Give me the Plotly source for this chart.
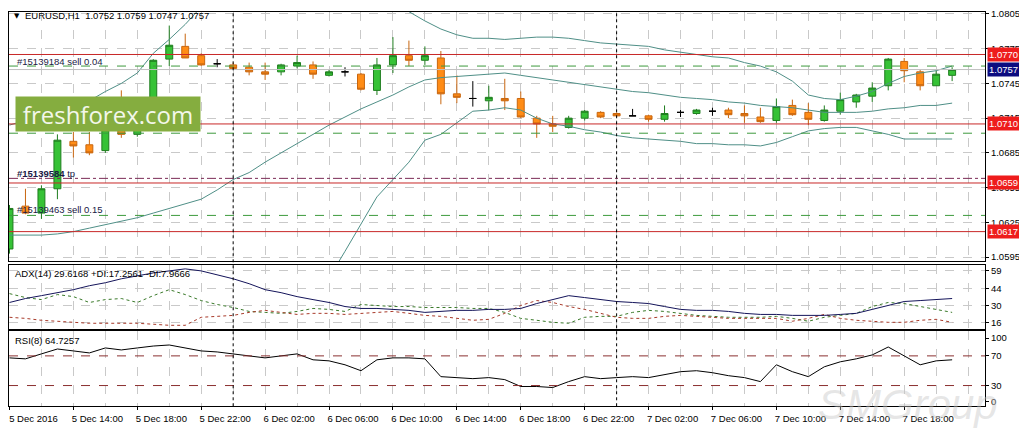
import plotly.graph_objects as go
from plotly.subplots import make_subplots

# the page body has an 8px margin, so the figure is 8px smaller than the window
PAGE_OFF = 8
W, H = 1027 - PAGE_OFF, 431 - PAGE_OFF

# EURUSD H1, bars from 5 Dec 2016 10:00 to 7 Dec 2016 21:00
bar_index = list(range(60))
tick_pos = list(range(0, 60, 4))
tick_labels = ["5 Dec 2016", "5 Dec 14:00", "5 Dec 18:00", "5 Dec 22:00",
               "6 Dec 02:00", "6 Dec 06:00", "6 Dec 10:00", "6 Dec 14:00",
               "6 Dec 18:00", "6 Dec 22:00", "7 Dec 02:00", "7 Dec 06:00",
               "7 Dec 10:00", "7 Dec 14:00", "7 Dec 18:00"]
day_breaks = [14, 38]

opens = [1.0602, 1.0639, 1.0633, 1.0654, 1.0695, 1.0692, 1.0687, 1.0706, 1.0701, 1.0716,
         1.0766, 1.0777, 1.0769, 1.0762, 1.0761, 1.0759, 1.0755, 1.0755, 1.0760, 1.0761,
         1.0752, 1.0755, 1.0753, 1.0739, 1.0761, 1.0769, 1.0765, 1.0767, 1.0736, 1.0732,
         1.0730, 1.0732, 1.0732, 1.0715, 1.0710, 1.0707, 1.0715, 1.0720, 1.0719, 1.0717,
         1.0717, 1.0714, 1.0720, 1.0719, 1.0721, 1.0722, 1.0719, 1.0716, 1.0713, 1.0726,
         1.0720, 1.0713, 1.0721, 1.0729, 1.0734, 1.0743, 1.0764, 1.0755, 1.0743, 1.0752]
highs = [1.0640, 1.0654, 1.0657, 1.0701, 1.0703, 1.0703, 1.0712, 1.0739, 1.0725, 1.0766,
         1.0795, 1.0788, 1.0771, 1.0766, 1.0763, 1.0763, 1.0763, 1.0762, 1.0769, 1.0764,
         1.0757, 1.0759, 1.0754, 1.0767, 1.0785, 1.0782, 1.0777, 1.0773, 1.0752, 1.0747,
         1.0743, 1.0749, 1.0738, 1.0717, 1.0717, 1.0717, 1.0722, 1.0721, 1.0720, 1.0723,
         1.0718, 1.0726, 1.0722, 1.0723, 1.0724, 1.0724, 1.0726, 1.0724, 1.0732, 1.0731,
         1.0728, 1.0726, 1.0737, 1.0736, 1.0746, 1.0767, 1.0767, 1.0757, 1.0756, 1.0759]
lows = [1.0598, 1.0632, 1.0628, 1.0645, 1.0681, 1.0683, 1.0685, 1.0698, 1.0699, 1.0712,
        1.0760, 1.0767, 1.0760, 1.0759, 1.0757, 1.0752, 1.0748, 1.0752, 1.0758, 1.0749,
        1.0751, 1.0751, 1.0739, 1.0735, 1.0754, 1.0760, 1.0761, 1.0727, 1.0728, 1.0725,
        1.0722, 1.0722, 1.0715, 1.0698, 1.0703, 1.0706, 1.0713, 1.0715, 1.0716, 1.0717,
        1.0712, 1.0712, 1.0716, 1.0718, 1.0717, 1.0715, 1.0711, 1.0711, 1.0711, 1.0717,
        1.0709, 1.0712, 1.0718, 1.0724, 1.0729, 1.0739, 1.0746, 1.0739, 1.0743, 1.0747]
closes = [1.0637, 1.0633, 1.0654, 1.0696, 1.0691, 1.0685, 1.0705, 1.0701, 1.0716, 1.0765,
          1.0778, 1.0767, 1.0761, 1.0762, 1.0758, 1.0755, 1.0753, 1.0761, 1.0763, 1.0753,
          1.0755, 1.0755, 1.0740, 1.0761, 1.0769, 1.0765, 1.0769, 1.0736, 1.0733, 1.0732,
          1.0733, 1.0730, 1.0716, 1.0710, 1.0708, 1.0715, 1.0721, 1.0716, 1.0717, 1.0717,
          1.0714, 1.0719, 1.0720, 1.0722, 1.0721, 1.0718, 1.0717, 1.0712, 1.0725, 1.0718,
          1.0714, 1.0722, 1.0731, 1.0735, 1.0741, 1.0766, 1.0756, 1.0743, 1.0753, 1.0757]

# Bollinger bands
bb_upper = [1.0709, 1.0713, 1.0716, 1.0720, 1.0723, 1.0730, 1.0738, 1.0745, 1.0754, 1.0771,
            1.0783, 1.0796, 1.0811, 1.0822, 1.0829, 1.0834, 1.0837, 1.0841, 1.0843, 1.0843,
            1.0841, 1.0836, 1.0827, 1.0819, 1.0812, 1.0807, 1.0799, 1.0792, 1.0787, 1.0784,
            1.0784, 1.0783, 1.0784, 1.0785, 1.0785, 1.0784, 1.0782, 1.0780, 1.0779, 1.0778,
            1.0777, 1.0774, 1.0772, 1.0770, 1.0768, 1.0767, 1.0763, 1.0760, 1.0755, 1.0747,
            1.0735, 1.0732, 1.0731, 1.0734, 1.0738, 1.0745, 1.0751, 1.0754, 1.0756, 1.0760]
bb_middle = [1.0614, 1.0614, 1.0614, 1.0615, 1.0617, 1.0620, 1.0623, 1.0626, 1.0629, 1.0633,
             1.0637, 1.0641, 1.0645, 1.0653, 1.0662, 1.0668, 1.0677, 1.0685, 1.0693, 1.0701,
             1.0709, 1.0716, 1.0723, 1.0729, 1.0735, 1.0742, 1.0748, 1.0750, 1.0751, 1.0752,
             1.0753, 1.0754, 1.0752, 1.0750, 1.0748, 1.0746, 1.0744, 1.0742, 1.0740, 1.0738,
             1.0737, 1.0735, 1.0733, 1.0732, 1.0731, 1.0729, 1.0728, 1.0726, 1.0725, 1.0724,
             1.0722, 1.0720, 1.0720, 1.0720, 1.0721, 1.0723, 1.0724, 1.0726, 1.0726, 1.0728]
bb_lower = [1.0519, 1.0515, 1.0512, 1.0510, 1.0511, 1.0510, 1.0508, 1.0507, 1.0504, 1.0495,
            1.0491, 1.0486, 1.0479, 1.0484, 1.0495, 1.0502, 1.0517, 1.0529, 1.0543, 1.0559,
            1.0577, 1.0600, 1.0624, 1.0647, 1.0662, 1.0677, 1.0696, 1.0701, 1.0711, 1.0721,
            1.0722, 1.0724, 1.0722, 1.0715, 1.0710, 1.0708, 1.0705, 1.0703, 1.0700, 1.0698,
            1.0697, 1.0696, 1.0695, 1.0693, 1.0693, 1.0692, 1.0692, 1.0691, 1.0694, 1.0699,
            1.0704, 1.0706, 1.0707, 1.0707, 1.0704, 1.0701, 1.0697, 1.0697, 1.0697, 1.0697]

# ADX(14)
adx = [32.6, 35.9, 38.3, 40.8, 43.3, 46.6, 49.1, 52.4, 54.9, 57.3,
       59.0, 60.7, 59.0, 55.7, 52.4, 48.3, 43.3, 40.8, 37.5, 35.0,
       32.6, 29.2, 27.6, 27.6, 26.8, 26.0, 24.3, 25.1, 26.0, 26.0,
       26.8, 26.8, 27.6, 31.7, 35.0, 38.3, 36.7, 35.0, 33.4, 32.6,
       31.7, 29.2, 26.8, 26.0, 26.0, 25.1, 23.5, 22.6, 22.6, 21.8,
       21.8, 21.8, 22.6, 23.5, 26.8, 30.1, 33.4, 34.2, 35.0, 35.9]
plus_di = [40.0, 36.7, 35.0, 39.2, 37.5, 32.6, 35.0, 35.9, 32.6, 38.3,
           43.3, 39.2, 34.2, 30.9, 28.4, 25.1, 24.3, 23.5, 25.1, 27.6,
           26.8, 25.1, 30.9, 30.1, 29.2, 29.2, 28.4, 28.4, 28.4, 27.6,
           27.6, 24.3, 19.3, 17.7, 16.0, 15.2, 20.2, 21.0, 21.0, 24.3,
           26.0, 25.1, 23.5, 21.8, 21.0, 20.2, 20.2, 20.2, 21.0, 19.3,
           16.9, 20.2, 21.8, 23.5, 29.2, 32.6, 31.7, 29.2, 26.8, 24.3]
minus_di = [20.2, 19.3, 17.7, 16.9, 16.0, 15.2, 15.2, 15.2, 15.2, 14.4,
            13.5, 13.5, 20.2, 21.0, 21.8, 24.3, 26.0, 24.3, 22.6, 23.5,
            23.5, 22.6, 23.5, 24.3, 25.1, 23.5, 21.8, 21.0, 19.3, 17.7,
            18.5, 23.5, 30.1, 34.2, 32.6, 29.2, 26.8, 23.5, 20.2, 19.3,
            19.3, 21.0, 21.8, 21.0, 20.2, 19.3, 19.3, 19.3, 19.3, 16.9,
            19.3, 22.6, 19.3, 17.7, 16.9, 16.0, 16.0, 17.7, 18.5, 16.0]

# RSI(8)
rsi = [67.3, 66.0, 72.7, 79.3, 76.7, 74.0, 80.7, 78.0, 80.7, 83.3,
       84.7, 80.7, 76.7, 75.3, 72.7, 70.0, 67.3, 70.0, 72.7, 64.7,
       63.3, 58.0, 50.0, 64.7, 67.3, 67.3, 66.0, 42.0, 40.7, 39.3,
       40.7, 38.0, 28.7, 28.7, 27.3, 35.3, 42.0, 39.3, 40.7, 42.0,
       40.7, 44.7, 48.7, 50.0, 47.3, 43.3, 40.7, 35.3, 58.0, 48.7,
       42.0, 55.3, 62.0, 66.0, 71.3, 82.0, 70.0, 58.0, 63.3, 64.7]

red_levels = [1.0770, 1.0710, 1.0659, 1.0617]
order_levels = [1.0760, 1.0702, 1.0631]
tp_level = 1.0663
bid_price = 1.0757
rsi_levels = [70, 30]
adx_ticks = [59, 44, 30, 16]

FONT = "Tahoma, 'Liberation Sans', Arial, sans-serif"
GRID = "#c9c9c9"
BAND = "#4f8f87"


# positions below are given in window pixels
def fx(px):
    return (px - PAGE_OFF) / W


def fy(py):
    return 1 - (py - PAGE_OFF) / H


fig = make_subplots(rows=3, cols=1, shared_xaxes=True, vertical_spacing=0.01)

body_i = [i for i in bar_index if opens[i] != closes[i]]
doji_i = [i for i in bar_index if opens[i] == closes[i]]

for band in (bb_upper, bb_middle, bb_lower):
    fig.add_trace(go.Scatter(x=bar_index, y=band, mode="lines",
                             line=dict(color=BAND, width=1),
                             showlegend=False, hoverinfo="skip"), row=1, col=1)

fig.add_trace(go.Candlestick(
    x=body_i,
    open=[opens[i] for i in body_i], high=[highs[i] for i in body_i],
    low=[lows[i] for i in body_i], close=[closes[i] for i in body_i],
    increasing=dict(line=dict(color="#1f7d1f", width=1), fillcolor="#36c236"),
    decreasing=dict(line=dict(color="#c8660f", width=1), fillcolor="#ff8c16"),
    whiskerwidth=0, showlegend=False, hoverinfo="skip"), row=1, col=1)

fig.add_trace(go.Candlestick(
    x=doji_i,
    open=[opens[i] for i in doji_i], high=[highs[i] for i in doji_i],
    low=[lows[i] for i in doji_i], close=[closes[i] for i in doji_i],
    increasing=dict(line=dict(color="black", width=1), fillcolor="black"),
    decreasing=dict(line=dict(color="black", width=1), fillcolor="black"),
    whiskerwidth=0, showlegend=False, hoverinfo="skip"), row=1, col=1)

# ADX panel
fig.add_trace(go.Scatter(x=bar_index, y=plus_di, mode="lines",
                         line=dict(color="#3a7a2a", width=1, dash="dot"),
                         showlegend=False, hoverinfo="skip"), row=2, col=1)
fig.add_trace(go.Scatter(x=bar_index, y=minus_di, mode="lines",
                         line=dict(color="#a83a2a", width=1, dash="dot"),
                         showlegend=False, hoverinfo="skip"), row=2, col=1)
fig.add_trace(go.Scatter(x=bar_index, y=adx, mode="lines",
                         line=dict(color="#14145a", width=1),
                         showlegend=False, hoverinfo="skip"), row=2, col=1)

# RSI panel
fig.add_trace(go.Scatter(x=bar_index, y=rsi, mode="lines",
                         line=dict(color="black", width=1),
                         showlegend=False, hoverinfo="skip"), row=3, col=1)

# horizontal levels
fig.add_hline(y=bid_price, line=dict(color="#c0c0c0", width=1), row=1, col=1)
for lv in order_levels:
    fig.add_hline(y=lv, line=dict(color="#3d9a3d", width=1, dash="dash"), row=1, col=1)
fig.add_hline(y=tp_level, line=dict(color="#7a2a55", width=1, dash="dashdot"), row=1, col=1)
for lv in red_levels:
    fig.add_hline(y=lv, line=dict(color="#c82828", width=1), row=1, col=1)
for lv in rsi_levels:
    fig.add_hline(y=lv, line=dict(color="#8b3030", width=1, dash="dash"), row=3, col=1)

# period separators
for d in day_breaks:
    fig.add_shape(type="line", xref="x", yref="paper", x0=d, x1=d,
                  y0=fy(407), y1=1, line=dict(color="black", width=1, dash="dot"))

ann = []
txt = dict(family=FONT, size=9.5, color="black")
lbl = dict(family=FONT, size=9.5, color="#1a1a45")
ann.append(dict(x=fx(11), y=fy(12), text="▼", font=dict(family="DejaVu Sans", size=7, color="black"),
                xanchor="left", yanchor="middle", showarrow=False))
ann.append(dict(x=fx(22), y=fy(12), text="EURUSD,H1  1.0752 1.0759 1.0747 1.0757",
                font=txt, xanchor="left", yanchor="middle", showarrow=False))
ann.append(dict(x=fx(12), y=fy(273), text="ADX(14) 29.6168 +DI:17.2561 -DI:7.9666",
                font=txt, xanchor="left", yanchor="middle", showarrow=False))
ann.append(dict(x=fx(12), y=fy(340), text="RSI(8) 64.7257",
                font=txt, xanchor="left", yanchor="middle", showarrow=False))
ann.append(dict(x=fx(14), y=fy(58), text="#15139184 sell 0.04",
                font=lbl, xanchor="left", yanchor="middle", showarrow=False))
ann.append(dict(x=fx(14), y=fy(125), text="#15139352 sell 0.08",
                font=lbl, xanchor="left", yanchor="middle", showarrow=False))
ann.append(dict(x=fx(14), y=fy(171), text="<b>#15139584</b> tp",
                font=lbl, xanchor="left", yanchor="middle", showarrow=False))
ann.append(dict(x=fx(14), y=fy(208), text="#15139463 sell 0.15",
                font=lbl, xanchor="left", yanchor="middle", showarrow=False))

# watermark boxes
ann.append(dict(x=fx(14), y=fy(93), text="freshforex.com", xanchor="left", yanchor="top",
                font=dict(family="Open Sans", size=24, color="#f3f7ea"),
                bgcolor="#85ad3f", width=182, height=32, borderpad=1, showarrow=False))
ann.append(dict(x=fx(908), y=fy(405), text="<i>SMGroup</i>",
                font=dict(family="Liberation Sans", size=42, color="rgba(200,200,200,0.45)"),
                xanchor="center", yanchor="middle", showarrow=False))

# price boxes on the right scale
for lv in red_levels:
    ann.append(dict(x=fx(987), y=lv, yref="y", text=f"{lv:.4f}",
                    font=dict(family=FONT, size=9.5, color="white"),
                    bgcolor="#ee1c1c", borderpad=1, xanchor="left", yanchor="middle",
                    showarrow=False))
ann.append(dict(x=fx(987), y=bid_price, yref="y", text=f"{bid_price:.4f}",
                font=dict(family=FONT, size=9.5, color="white"),
                bgcolor="#0c0c80", borderpad=1, xanchor="left", yanchor="middle",
                showarrow=False))

for a in ann:
    a.setdefault("xref", "paper")
    a.setdefault("yref", "paper")

fig.update_layout(
    width=W, height=H, margin=dict(l=0, r=0, t=0, b=0), autosize=False,
    paper_bgcolor="white", plot_bgcolor="white", hovermode=False,
    boxgap=0.38, annotations=ann,
    font=dict(family=FONT, size=9.5, color="black"),
)

axis_common = dict(showline=True, mirror=True, linecolor="black", linewidth=1,
                   zeroline=False, showgrid=True, gridcolor=GRID, griddash="dash",
                   gridwidth=1)

fig.update_xaxes(range=[-0.03, 61.06], domain=[0, fx(985)],
                 tickmode="array", tickvals=tick_pos, ticktext=tick_labels,
                 rangeslider_visible=False,
                 minor=dict(tick0=0, dtick=2, showgrid=True, gridcolor=GRID, griddash="dash"),
                 **axis_common)
fig.update_xaxes(showticklabels=False, ticks="", row=1, col=1)
fig.update_xaxes(showticklabels=False, ticks="", row=2, col=1)
fig.update_xaxes(ticks="outside", ticklen=3, tickcolor="black", ticklabelshift=24,
                 tickfont=dict(family=FONT, size=9.5, color="black"), row=3, col=1)

fig.update_yaxes(side="right", ticks="outside", ticklen=3, tickcolor="black",
                 ticklabeloverflow="allow",
                 tickfont=dict(family=FONT, size=9.5, color="black"), **axis_common)
fig.update_yaxes(domain=[fy(260), 1], range=[1.05916, 1.08067],
                 tick0=1.0595, dtick=0.003, tickformat=".4f", row=1, col=1)
fig.update_yaxes(domain=[fy(329), fy(264)], range=[10.24, 63.96],
                 tickmode="array", tickvals=adx_ticks, row=2, col=1)
fig.update_yaxes(domain=[fy(407), fy(331)], range=[2.0, 103.33],
                 tickmode="array", tickvals=[94, 70, 30, 8.7],
                 ticktext=["100", "70", "30", "0"], showgrid=False, row=3, col=1)

fig.write_html("out.html")
